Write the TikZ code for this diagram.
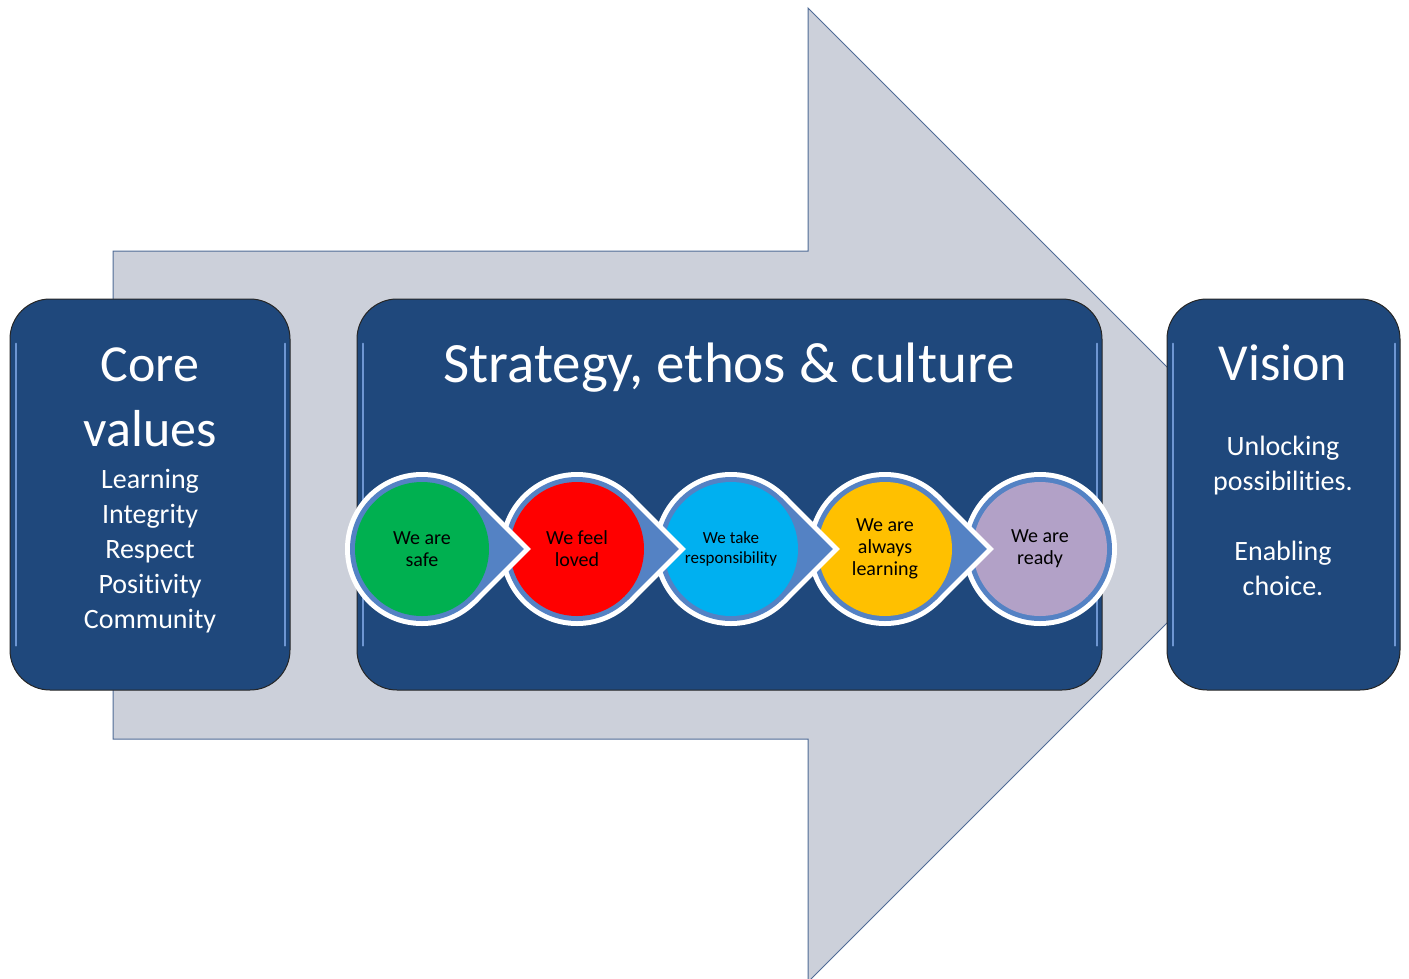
\documentclass[tikz,border=0pt]{standalone}
\usepackage{fontspec}
\setmainfont[Ligatures=NoCommon]{Carlito}
\definecolor{navy}{RGB}{31,72,124}
\definecolor{panelglow}{RGB}{110,150,210}
\definecolor{arrowgray}{RGB}{204,208,218}
\definecolor{arrowline}{RGB}{79,107,150}
\definecolor{chevron}{RGB}{84,130,196}
\definecolor{safegreen}{RGB}{0,176,80}
\definecolor{lovedred}{RGB}{255,0,0}
\definecolor{takecyan}{RGB}{0,176,240}
\definecolor{learnyellow}{RGB}{255,192,0}
\definecolor{readypurple}{RGB}{178,161,199}
\tikzset{
  panel/.style={draw=black!85, fill=navy, rounded corners=40pt, line width=1pt,
    minimum height=391pt, inner sep=0pt},
  glow/.style={draw=panelglow, line width=2pt, line cap=round},
  paneltext/.style={text=white, align=center, inner sep=0pt},
  circtext/.style={text=black, align=center, inner sep=0pt,
    font=\fontsize{20}{22}\selectfont},
}
\begin{document}
\begin{tikzpicture}[x=1pt,y=-1pt]
  \useasboundingbox (0,0) rectangle (1409,978);
  % big arrow behind everything
  \filldraw[fill=arrowgray, draw=arrowline, line width=1pt]
    (113,251) -- (808,251) -- (808,8) -- (1295,495) -- (808,982)
    -- (808,739) -- (113,739) -- cycle;
  % the three panels
  \node[panel, minimum width=280pt] (core) at (150,494.5) {};
  \node[panel, minimum width=745pt] (strategy) at (729.5,494.5) {};
  \node[panel, minimum width=233pt] (vision) at (1283.5,494.5) {};
  \foreach \p in {core,strategy,vision} {
    \draw[glow] ([xshift=6pt,yshift=-45pt]\p.north west) -- ([xshift=6pt,yshift=45pt]\p.south west);
    \draw[glow] ([xshift=-6pt,yshift=-45pt]\p.north east) -- ([xshift=-6pt,yshift=45pt]\p.south east);
  };
  % panel texts
  \node[paneltext, font=\fontsize{52}{65}\selectfont] (coretitle) at (150,397) {Core\\values};
  \node[paneltext, font=\fontsize{28}{35}\selectfont] (corelist) at (150,551)
    {Learning\\Integrity\\Respect\\Positivity\\Community};
  \node[paneltext, font=\fontsize{57}{68}\selectfont] (strattitle) at (729,368)
    {Strategy, ethos \& culture};
  \node[paneltext, font=\fontsize{52}{64}\selectfont] (vistitle) at (1283,363) {Vision};
  \node[paneltext, font=\fontsize{28}{35}\selectfont] (vislist) at (1283,516)
    {Unlocking\\possibilities.\\[35pt]Enabling\\choice.};
  % last step: plain circle
  \fill[white] (1040,549) circle[radius=77];
  \fill[chevron] (1040,549) circle[radius=72];
  \fill[readypurple] (1040,549) circle[radius=67];
  % teardrop steps, drawn right to left so each tip lies on the next
  \foreach \cx/\col in {885/learnyellow, 731/takecyan, 577/lovedred, 422/safegreen} {
    \fill[white] (\cx,549) circle[radius=77];
    \fill[white] (\cx,549) -- ++(45:77) -- ++(-45:77) -- ++(-135:77) -- cycle;
    \fill[chevron] (\cx,549) circle[radius=72];
    \fill[chevron] (\cx,549) -- ++(45:72) -- ++(-45:72) -- ++(-135:72) -- cycle;
    \fill[\col] (\cx,549) circle[radius=67];
  };
  \node[circtext] (safe) at (422,549) {We are\\safe};
  \node[circtext] (loved) at (577,549) {We feel\\loved};
  \node[circtext, font=\fontsize{17}{20}\selectfont] (resp) at (731,549) {We take\\responsibility};
  \node[circtext] (learn) at (885,549) {We are\\always\\learning};
  \node[circtext] (ready) at (1040,549) {We are\\ready};
\end{tikzpicture}
\end{document}
